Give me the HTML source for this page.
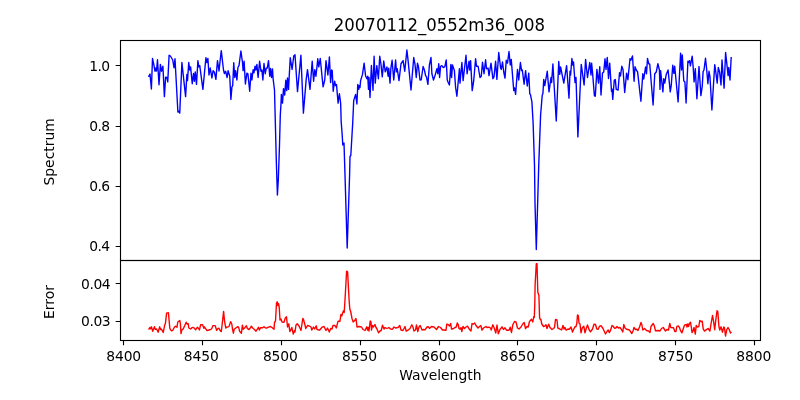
<!DOCTYPE html><html><head><meta charset="utf-8"><title>20070112_0552m36_008</title><style>html,body{margin:0;padding:0;background:#fff}body{width:800px;height:400px;overflow:hidden}</style></head><body><svg width="800" height="400" viewBox="0 0 800 400" style="display:block">
<rect width="800" height="400" fill="#fff"/>
<g clip-path="url(#c1)"><polyline points="148.50,76.90 150.00,74.00 151.40,89.00 152.50,58.50 154.00,65.60 155.00,71.25 156.00,68.00 156.50,71.00 157.50,59.75 159.00,84.75 160.40,64.40 161.50,71.25 162.90,66.25 164.40,96.60 165.60,77.25 166.90,77.50 167.75,81.90 169.10,55.25 170.40,56.00 172.75,60.00 174.00,67.75 175.00,58.75 177.90,112.00 178.80,111.20 179.75,113.10 181.90,62.50 185.60,96.60 186.90,74.40 187.50,80.60 188.75,62.50 189.75,70.00 190.60,66.90 192.25,83.75 193.50,73.50 194.40,81.25 195.25,71.90 196.50,84.40 197.90,60.60 198.75,66.90 199.75,65.60 202.90,89.40 205.90,57.75 206.90,62.50 207.90,58.50 209.00,75.00 210.25,68.00 211.90,78.00 213.10,70.60 214.40,72.25 215.90,79.40 217.50,60.60 219.00,71.00 221.25,50.60 223.50,70.00 224.40,73.50 225.60,71.25 227.10,77.50 228.10,70.60 229.75,76.25 230.90,99.40 231.90,87.00 232.70,85.60 233.75,62.75 234.75,77.50 235.60,70.60 236.90,80.00 237.90,67.50 239.00,65.60 240.90,51.00 242.50,62.50 243.10,70.60 244.10,61.25 245.40,84.00 246.90,73.10 247.90,73.75 249.70,91.25 251.00,73.10 251.90,80.00 253.10,69.75 254.00,72.75 255.00,66.25 255.90,70.00 256.90,64.40 258.10,77.50 259.60,61.25 261.00,71.25 261.90,70.00 262.90,80.00 264.00,63.50 265.25,73.75 266.25,68.10 267.25,68.10 268.50,60.60 269.75,76.25 270.60,68.50 271.50,77.50 272.50,69.00 273.10,78.75 274.50,90.00 275.40,125.00 276.35,162.00 277.40,195.00 278.30,180.00 279.50,145.00 280.30,115.00 281.00,103.75 281.40,94.40 282.50,103.10 283.50,88.60 284.70,95.00 285.80,80.30 286.70,90.60 287.50,78.00 288.50,89.40 290.25,57.75 292.10,69.40 293.75,56.00 295.00,54.75 297.50,91.60 300.90,55.25 303.40,113.10 306.20,79.40 307.50,69.70 310.00,89.40 312.20,61.25 313.60,81.25 314.75,69.70 315.90,76.25 316.90,67.50 317.75,58.75 318.75,66.90 320.25,58.50 323.10,86.90 324.75,80.00 326.00,60.60 327.90,75.00 329.40,56.90 330.60,82.50 331.60,70.00 332.20,70.60 333.20,91.25 334.60,81.25 335.60,85.60 336.50,84.50 338.10,103.10 339.40,93.75 340.60,102.50 340.85,110.00 341.15,121.25 342.20,135.00 342.80,145.00 344.00,143.00 345.00,175.00 347.20,248.00 349.60,175.00 350.00,156.50 350.80,155.50 352.00,135.00 352.60,125.00 353.30,110.00 353.70,100.60 355.60,94.40 356.90,104.00 357.80,84.40 358.75,89.40 359.40,85.60 360.00,87.50 360.60,80.60 362.50,74.40 364.10,63.10 365.60,76.00 366.90,78.75 367.75,76.25 368.50,89.40 369.00,77.50 370.00,97.50 371.40,65.50 373.00,90.30 374.10,56.25 375.25,83.10 376.80,65.60 378.40,78.75 379.75,56.25 380.90,63.75 382.25,76.90 383.75,61.00 385.25,71.90 386.90,66.90 388.10,76.25 388.75,68.10 390.00,83.10 390.90,68.10 392.10,60.25 393.75,80.00 395.60,60.00 396.50,71.90 397.25,68.75 399.00,80.60 401.00,63.75 403.10,60.60 404.75,71.25 406.90,50.00 408.10,60.60 411.00,90.00 413.75,57.50 415.00,64.40 416.25,77.50 417.50,63.10 418.50,66.90 420.00,80.00 421.25,79.75 423.10,66.50 424.40,70.00 425.60,75.60 426.50,76.90 427.90,84.40 429.40,65.00 431.00,57.50 431.90,73.75 433.50,80.00 435.00,75.60 436.90,68.75 437.75,73.75 438.75,63.75 439.60,77.50 440.60,66.25 441.90,65.60 443.10,67.50 444.75,66.90 446.25,60.00 447.25,80.00 448.20,82.50 449.40,85.00 450.90,64.40 451.60,77.50 452.50,65.00 454.40,70.60 455.60,87.50 456.90,96.25 459.40,68.75 460.00,83.10 461.90,62.50 463.10,80.60 466.00,55.25 467.10,73.75 469.00,61.25 469.75,70.00 470.60,60.60 472.20,90.60 473.75,80.30 475.60,58.75 476.50,66.25 478.10,66.25 480.00,77.50 481.25,76.25 482.50,62.25 484.00,73.75 485.60,59.75 486.50,68.75 488.10,68.10 489.00,75.60 491.00,63.10 492.90,78.75 494.00,76.90 495.60,61.25 496.90,79.40 498.75,52.50 500.60,68.00 501.30,69.40 502.50,61.90 503.75,72.00 505.00,78.10 506.25,60.25 507.50,63.10 509.00,51.50 510.25,65.00 511.25,59.40 513.75,90.60 514.60,88.00 515.60,94.40 517.50,69.40 518.75,80.00 520.40,62.50 521.60,70.60 522.30,70.00 524.10,84.20 525.60,70.60 527.25,86.00 528.75,73.10 529.75,93.75 530.40,94.40 531.90,101.90 533.10,122.50 534.50,165.00 535.00,203.00 536.30,249.50 538.75,165.00 540.60,115.00 542.25,95.00 542.90,93.75 543.75,79.40 544.75,85.60 547.25,71.25 549.00,91.90 551.00,77.50 551.60,82.50 552.90,64.00 553.75,78.75 556.25,121.00 558.75,61.50 559.75,74.40 560.60,66.90 563.80,83.10 566.60,65.60 569.00,98.10 570.00,71.25 570.60,75.00 571.90,58.50 572.75,65.00 573.50,61.90 575.00,82.50 576.00,77.50 577.90,136.90 581.25,64.40 584.10,85.00 585.60,59.40 587.50,77.50 589.75,62.50 591.00,75.00 591.60,63.10 592.50,72.00 594.40,95.80 595.30,96.25 596.90,69.40 598.50,83.10 599.75,66.70 601.00,95.00 602.50,73.10 603.75,71.90 605.00,58.75 606.00,69.40 607.25,57.50 608.50,78.50 609.70,63.10 611.50,91.25 612.00,89.00 612.75,99.40 614.30,80.00 615.30,79.50 616.25,89.40 618.10,90.00 619.50,72.80 620.50,76.00 621.80,66.25 623.00,69.40 624.70,92.50 626.60,73.10 627.90,79.70 630.00,58.75 631.00,60.00 632.50,56.00 634.10,81.25 635.00,66.70 636.25,70.00 637.60,71.90 640.90,101.25 642.80,73.75 643.75,79.00 645.60,66.90 646.50,73.75 647.50,58.50 648.75,63.75 649.75,64.20 653.10,105.00 654.75,73.75 656.25,72.00 657.90,63.75 659.40,70.00 660.00,89.40 660.60,70.60 662.90,91.90 663.75,78.75 664.75,83.10 666.25,74.40 668.10,70.00 670.25,91.90 671.25,85.30 672.75,65.30 673.90,73.40 674.70,66.25 678.10,101.90 680.60,53.10 681.60,70.00 682.30,55.00 683.75,80.80 684.90,82.00 686.10,103.00 687.90,61.25 688.75,62.50 689.50,60.60 690.40,65.90 692.20,56.20 693.20,67.50 694.10,81.90 695.30,68.75 696.90,98.75 699.00,66.50 700.90,95.60 702.25,86.25 703.10,71.60 704.00,70.00 705.50,58.30 706.50,67.50 707.90,83.75 709.00,71.25 710.00,77.20 711.90,110.00 714.75,64.60 715.60,70.60 717.20,83.10 718.30,67.50 719.60,72.00 721.00,85.00 722.00,60.00 724.10,88.10 725.60,52.40 728.10,75.60 728.75,67.50 730.00,80.00 731.20,57.00" fill="none" stroke="#0000ff" stroke-width="1.39" stroke-linejoin="round" stroke-linecap="butt"/></g>
<g clip-path="url(#c2)"><polyline points="148.60,329.60 149.80,327.60 150.60,328.80 151.40,326.80 152.75,331.20 153.40,329.60 154.40,326.60 155.25,329.20 156.60,329.00 158.20,332.20 159.60,326.80 160.60,329.60 161.40,329.20 163.25,332.40 164.60,325.60 165.40,323.60 166.60,313.20 168.40,312.60 169.80,328.00 170.60,330.00 171.80,330.80 173.00,330.00 174.60,326.80 175.80,326.20 177.00,327.20 177.80,322.00 179.00,321.20 179.80,320.40 180.40,324.00 181.00,333.60 181.80,330.00 183.00,329.20 184.75,325.60 186.20,322.20 187.00,324.00 188.20,323.60 188.80,328.00 190.60,329.00 192.20,327.40 193.80,327.60 195.60,329.80 197.40,327.20 198.20,328.00 199.40,330.00 200.60,324.80 202.60,324.80 203.80,328.40 204.40,326.80 205.80,328.80 207.00,330.60 209.00,330.00 211.00,329.40 211.80,328.40 213.00,325.60 215.25,325.60 215.80,327.60 216.60,330.40 217.80,328.60 219.00,328.20 220.20,330.80 221.25,331.60 222.20,324.00 223.60,311.40 224.60,321.60 225.80,328.00 227.00,327.20 229.00,326.60 230.60,321.60 231.80,324.00 232.60,329.60 233.40,333.20 234.20,329.20 235.80,328.00 237.80,326.60 238.60,327.20 239.60,331.20 241.40,333.20 242.40,325.20 243.25,329.20 244.60,328.00 246.40,325.80 247.40,328.40 249.00,329.60 250.20,328.00 251.40,326.20 252.60,328.00 254.20,329.20 256.00,331.20 257.40,329.20 258.40,327.20 259.40,330.00 260.60,327.60 262.60,327.80 264.00,326.80 265.00,327.60 266.50,328.20 268.50,327.20 270.50,326.50 272.00,327.50 274.00,329.20 274.50,322.50 275.50,321.00 276.50,303.00 277.20,301.80 277.80,305.50 278.50,303.50 279.20,307.00 280.00,320.00 281.00,319.00 282.00,322.00 284.00,322.30 285.30,318.00 286.50,316.80 287.50,327.00 288.80,323.80 289.80,331.50 290.80,330.00 291.80,327.50 293.30,334.00 294.50,330.50 295.00,332.00 296.00,325.00 297.20,323.80 299.00,326.00 301.00,330.50 302.80,318.50 303.50,319.50 305.00,325.00 305.80,328.50 307.50,325.50 309.50,326.20 311.00,327.00 311.80,330.00 313.50,327.00 314.70,329.00 316.30,325.80 317.00,329.50 319.50,330.20 322.00,327.20 324.00,326.50 326.00,330.50 327.50,328.00 329.30,332.00 330.70,328.50 332.00,329.00 333.00,325.50 335.00,325.50 336.30,328.00 338.00,321.30 339.90,321.30 340.90,314.50 341.80,316.00 342.60,313.00 343.50,310.70 344.20,312.50 345.00,300.00 346.60,271.20 347.60,271.80 349.10,300.00 349.80,309.00 350.80,312.00 352.00,318.50 353.20,322.00 354.50,320.80 356.00,318.50 357.00,327.00 359.00,326.50 361.50,327.00 363.00,329.50 365.00,330.50 366.80,326.80 367.50,330.00 368.20,327.50 369.00,331.00 370.20,321.00 371.00,322.00 371.50,330.00 372.50,325.50 373.50,327.00 375.00,324.50 376.00,327.50 377.00,329.00 378.50,332.80 380.00,331.00 381.20,330.50 382.50,325.20 384.00,329.00 385.00,327.50 387.00,328.50 389.00,327.50 390.50,329.00 392.50,329.20 394.00,327.00 395.50,328.00 398.00,327.50 399.80,325.50 401.00,330.00 403.00,330.50 405.00,326.50 406.20,331.20 408.50,329.80 410.00,328.50 411.80,324.80 412.80,326.50 414.00,331.00 415.50,330.00 416.50,325.00 417.80,331.50 419.00,327.00 420.20,325.50 422.00,330.00 423.50,329.50 425.00,329.80 427.00,327.00 428.50,326.80 429.50,328.50 431.50,326.50 434.00,327.00 436.50,329.50 438.50,326.50 440.50,327.50 442.50,330.00 444.50,330.00 446.00,330.20 446.80,324.20 448.00,324.50 449.50,326.00 450.70,323.50 451.50,329.00 453.00,328.80 455.00,327.50 456.20,327.00 457.30,323.00 458.20,324.50 459.00,328.50 460.00,329.20 461.00,327.50 461.80,331.50 463.00,326.50 464.50,328.50 466.00,327.00 467.50,326.20 469.00,328.80 471.00,331.00 472.00,323.50 473.20,324.20 474.70,323.00 476.00,325.50 478.00,328.00 479.50,326.50 480.80,325.50 482.00,330.20 483.50,328.00 486.00,326.50 487.00,327.50 489.00,327.20 490.50,328.00 491.20,330.00 492.80,324.80 494.00,327.50 495.80,333.00 497.00,325.00 498.30,333.80 500.00,329.50 502.00,326.80 503.50,329.50 505.00,327.80 506.50,330.20 509.00,330.20 510.20,327.20 511.50,332.50 512.80,324.80 514.50,321.50 516.00,322.00 517.50,328.00 519.00,329.00 521.00,327.00 522.80,324.00 524.20,322.50 525.50,328.50 527.00,326.50 528.20,327.00 529.50,321.50 531.50,319.20 532.80,322.00 533.80,316.50 534.30,317.50 534.80,304.00 535.10,285.00 536.30,263.60 537.00,263.60 537.80,292.00 538.90,295.50 539.60,318.00 540.30,319.50 540.80,319.20 541.80,324.00 543.50,326.50 545.00,325.80 546.00,324.80 547.00,328.50 548.70,324.20 550.00,327.50 552.00,329.50 553.50,328.50 554.50,327.50 555.50,319.50 557.00,320.00 557.80,328.00 559.50,328.80 561.60,330.00 563.00,325.50 564.00,329.00 565.00,327.50 566.20,330.20 568.00,329.00 569.50,329.20 571.00,327.00 572.50,332.00 574.80,327.00 576.00,326.50 576.80,323.50 577.50,315.00 578.30,315.50 579.00,323.00 580.00,324.00 581.00,332.80 582.20,328.00 583.80,326.20 585.00,332.80 586.20,328.50 587.50,325.00 589.00,329.50 590.50,331.80 592.50,329.00 594.00,324.20 595.50,324.50 596.80,329.00 598.20,329.20 599.50,326.20 601.20,325.80 603.00,328.50 605.50,334.00 607.00,331.50 608.20,330.00 609.20,332.50 610.50,330.50 612.00,325.50 613.00,326.00 614.50,328.20 615.80,328.00 617.00,326.50 618.50,328.00 620.00,327.50 621.20,329.20 622.80,332.00 623.80,324.50 625.00,328.00 626.50,329.20 629.00,329.80 630.50,331.50 631.80,333.50 633.00,331.00 634.00,327.50 635.50,329.50 637.00,329.20 638.00,330.50 639.50,327.00 641.00,322.50 641.80,324.50 642.80,330.00 644.50,328.50 646.50,330.50 648.50,331.00 650.00,332.50 651.00,326.50 653.20,323.50 654.20,325.50 655.50,330.80 658.00,330.50 660.00,331.00 661.50,328.50 663.20,327.50 665.50,331.00 667.00,329.50 668.50,330.00 669.80,323.50 670.80,327.50 673.50,327.80 674.80,331.50 676.00,331.50 676.80,326.50 678.20,325.80 679.50,327.50 680.50,330.50 682.00,332.80 683.50,328.00 684.50,325.20 686.50,324.50 687.00,327.00 687.80,324.00 688.50,326.50 689.50,323.50 690.50,322.30 691.30,327.00 692.00,332.50 693.00,331.00 694.00,327.50 695.30,334.10 696.20,325.50 697.30,327.10 698.80,326.60 699.80,320.40 701.00,321.50 702.20,321.20 703.20,328.80 704.50,331.10 706.50,329.60 708.10,328.50 709.90,331.00 711.10,323.50 712.50,315.50 713.50,320.80 714.70,329.70 715.80,320.00 717.00,310.80 717.80,311.50 719.00,327.00 719.80,330.00 721.00,326.80 722.50,332.20 723.80,327.00 724.50,328.00 725.50,336.00 726.80,329.50 728.00,327.50 729.20,329.50 730.50,333.00 731.50,332.00" fill="none" stroke="#ff0000" stroke-width="1.39" stroke-linejoin="round" stroke-linecap="butt"/></g>
<defs><clipPath id="c1"><rect x="120.5" y="40.5" width="640.0" height="220.0"/></clipPath><clipPath id="c2"><rect x="120.5" y="260.5" width="640.0" height="80.0"/></clipPath></defs>
<g stroke="#000" stroke-width="1.11" fill="none" stroke-linecap="square"><rect x="120.5" y="40.5" width="640.0" height="220.0"/><rect x="120.5" y="260.5" width="640.0" height="80.0"/></g>
<path d="M123.50,340.5v4.86 M202.50,340.5v4.86 M281.50,340.5v4.86 M360.50,340.5v4.86 M439.50,340.5v4.86 M517.50,340.5v4.86 M596.50,340.5v4.86 M675.50,340.5v4.86 M754.50,340.5v4.86 M120.5,65.50h-4.86 M120.5,126.50h-4.86 M120.5,186.50h-4.86 M120.5,246.50h-4.86 M120.5,283.50h-4.86 M120.5,321.50h-4.86" stroke="#000" stroke-width="1.11" fill="none"/>
<g font-family="'DejaVu Sans', 'Liberation Sans', sans-serif" font-size="13.89px" fill="#000">
<text x="123.70" y="361.3" text-anchor="middle" textLength="35" lengthAdjust="spacing">8400</text>
<text x="201.30" y="361.3" text-anchor="middle" textLength="35" lengthAdjust="spacing">8450</text>
<text x="280.40" y="361.3" text-anchor="middle" textLength="35" lengthAdjust="spacing">8500</text>
<text x="359.50" y="361.3" text-anchor="middle" textLength="35" lengthAdjust="spacing">8550</text>
<text x="438.70" y="361.3" text-anchor="middle" textLength="35" lengthAdjust="spacing">8600</text>
<text x="517.50" y="361.3" text-anchor="middle" textLength="35" lengthAdjust="spacing">8650</text>
<text x="596.40" y="361.3" text-anchor="middle" textLength="35" lengthAdjust="spacing">8700</text>
<text x="675.50" y="361.3" text-anchor="middle" textLength="35" lengthAdjust="spacing">8750</text>
<text x="753.80" y="361.3" text-anchor="middle" textLength="35" lengthAdjust="spacing">8800</text>
<text x="110.0" y="70.80" text-anchor="end" textLength="20.8" lengthAdjust="spacing">1.0</text>
<text x="110.0" y="130.80" text-anchor="end" textLength="20.8" lengthAdjust="spacing">0.8</text>
<text x="110.0" y="190.80" text-anchor="end" textLength="20.8" lengthAdjust="spacing">0.6</text>
<text x="110.0" y="250.80" text-anchor="end" textLength="20.8" lengthAdjust="spacing">0.4</text>
<text x="110.7" y="288.80" text-anchor="end" textLength="29.75" lengthAdjust="spacing">0.04</text>
<text x="110.7" y="325.80" text-anchor="end" textLength="29.75" lengthAdjust="spacing">0.03</text>
<text x="440.3" y="379.6" text-anchor="middle">Wavelength</text>
<text transform="translate(53.7,151.9) rotate(-90)" text-anchor="middle">Spectrum</text>
<text transform="translate(53.5,302.0) rotate(-90)" text-anchor="middle">Error</text>
<text x="439.5" y="31.4" text-anchor="middle" font-size="16.9px" textLength="211.3" lengthAdjust="spacingAndGlyphs">20070112_0552m36_008</text>
</g></svg></body></html>
